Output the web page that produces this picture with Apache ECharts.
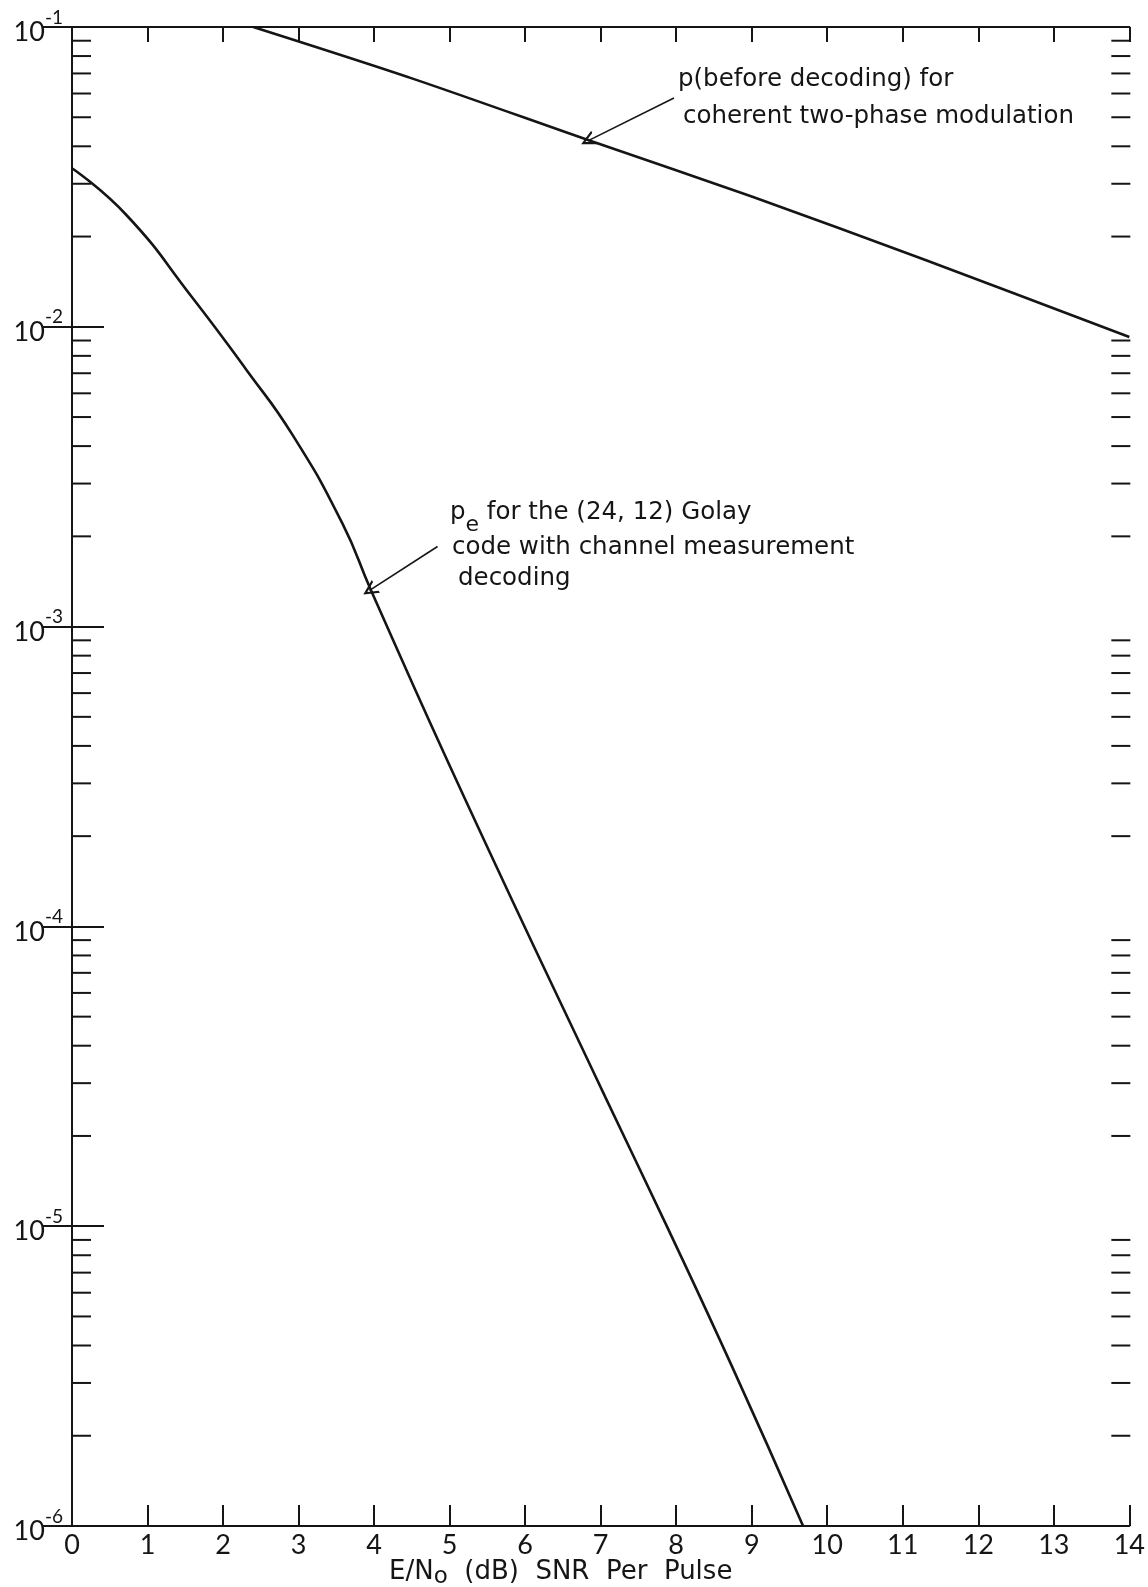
<!DOCTYPE html>
<html>
<head>
<meta charset="utf-8">
<script src="https://cdn.jsdelivr.net/npm/echarts@6/dist/echarts.min.js"></script>
<style>
html,body{margin:0;padding:0;background:#fff;}
#chart{width:1148px;height:1587px;}
</style>
</head>
<body>
<div id="chart"></div>
<script>
// ---- data ----
const xTicks = [0,1,2,3,4,5,6,7,8,9,10,11,12,13,14];
const yDecades = [1e-6, 1e-5, 1e-4, 1e-3, 1e-2, 1e-1];
const minorMantissas = [2,3,4,5,6,7,8,9];

// p (before decoding) for coherent two-phase modulation
const upperX = [2.4, 4.5, 6.9, 9.0, 11.3, 14];
const upperY = [0.1, 0.0674, 0.0414, 0.0272, 0.0167, 0.00925];

// Pe for the (24,12) Golay code with channel measurement decoding
const lowerX = [0, 0.72, 1.6, 2.31, 2.92, 3.58, 3.96, 5.21, 7.06, 7.86, 8.74, 9.68];
const lowerY = [0.0338, 0.0236, 0.01245, 0.00718, 0.00436, 0.00221, 0.00132, 0.000264, 0.000027, 0.0000102, 0.0000034, 0.000001];

// annotation arrows [start, tip] in data coordinates
const arrowUpper = [[7.97, 0.058], [6.83, 0.0417]];
const arrowLower = [[4.84, 0.00185], [3.94, 0.00132]];

// ---- build ----
const minorTicks = [];
yDecades.slice(0, -1).forEach(d => minorMantissas.forEach(m => minorTicks.push([0, Number((m * d).toPrecision(3))])));

const FONT = 'Lato, "DejaVu Sans", sans-serif';
const TFONT = '"DejaVu Sans", Lato, sans-serif';
const INK = '#151515';
const chart = echarts.init(document.getElementById('chart'), null, {renderer: 'canvas'});

const chevron = 'path://M0,10 L5,0 L10,10 L8.4,10 L5,3.2 L1.6,10 Z';

function arrowLine(a) {
  return [{coord: a[0]}, {coord: a[1]}];
}

const option = {
  backgroundColor: '#fff',
  animation: false,
  grid: {left: 72, right: 15, top: 27, bottom: 61, containLabel: false},
  xAxis: [
    {
      type: 'value', min: 0, max: 14, interval: 1, position: 'bottom',
      axisLine: {show: true, lineStyle: {color: INK, width: 2}},
      axisTick: {show: true, inside: true, length: 21, lineStyle: {color: INK, width: 2}},
      axisLabel: {show: true, fontSize: 27, color: INK, fontFamily: FONT, margin: 6,
        formatter: v => xTicks.includes(v) ? String(v) : ''},
      splitLine: {show: false}
    },
    {
      type: 'value', min: 0, max: 14, interval: 1, position: 'top',
      axisLine: {show: true, lineStyle: {color: INK, width: 2}},
      axisTick: {show: true, inside: true, length: 15, lineStyle: {color: INK, width: 2}},
      axisLabel: {show: false},
      splitLine: {show: false}
    }
  ],
  yAxis: [
    {
      type: 'log', logBase: 10, min: 1e-6, max: 1e-1, position: 'left',
      axisLine: {show: true, lineStyle: {color: INK, width: 2}},
      axisTick: {show: true, inside: true, length: 32, lineStyle: {color: INK, width: 2}},
      axisLabel: {
        show: true, margin: 9, color: INK, fontFamily: FONT,
        formatter: v => '{b|10}{s|' + Math.round(Math.log10(v)) + '}',
        rich: {
          b: {fontSize: 27, fontFamily: FONT, color: INK, lineHeight: 38, verticalAlign: 'bottom'},
          s: {fontSize: 19, fontFamily: FONT, color: INK, lineHeight: 19, verticalAlign: 'top'}
        }
      },
      splitLine: {show: false}
    },
    {
      type: 'log', logBase: 10, min: 1e-6, max: 1e-1, position: 'right',
      axisLine: {show: true, lineStyle: {color: INK, width: 2}},
      axisTick: {show: true, inside: true, length: 30, lineStyle: {color: INK, width: 2}},
      axisLabel: {show: false},
      splitLine: {show: false}
    }
  ],
  series: [
    {
      name: 'minor ticks', type: 'custom', xAxisIndex: 0, yAxisIndex: 0, silent: true, clip: false,
      data: minorTicks,
      renderItem: function (params, api) {
        const v = api.value(1);
        const pl = api.coord([0, v]);
        const pr = api.coord([14, v]);
        return {
          type: 'group',
          children: [
            {type: 'line', shape: {x1: pl[0] - 1, y1: pl[1], x2: pl[0] + 19, y2: pl[1]}, style: {stroke: INK, lineWidth: 2}},
            {type: 'line', shape: {x1: pr[0] - 18, y1: pr[1], x2: pr[0] + 1, y2: pr[1]}, style: {stroke: INK, lineWidth: 2}}
          ]
        };
      }
    },
    {
      name: 'p before decoding', type: 'line', xAxisIndex: 0, yAxisIndex: 0,
      data: upperX.map((x, i) => [x, upperY[i]]),
      showSymbol: false, smooth: 0.3,
      itemStyle: {color: INK},
      lineStyle: {color: INK, width: 2.6},
      markLine: {
        silent: true, symbol: ['none', chevron], symbolSize: 15,
        label: {show: false},
        itemStyle: {color: INK},
        lineStyle: {color: INK, width: 1.6, type: 'solid'},
        data: [arrowLine(arrowUpper)]
      }
    },
    {
      name: 'Pe Golay', type: 'line', xAxisIndex: 0, yAxisIndex: 0,
      data: lowerX.map((x, i) => [x, lowerY[i]]),
      showSymbol: false, smooth: 0.5,
      itemStyle: {color: INK},
      lineStyle: {color: INK, width: 2.6},
      markLine: {
        silent: true, symbol: ['none', chevron], symbolSize: 15,
        label: {show: false},
        itemStyle: {color: INK},
        lineStyle: {color: INK, width: 1.6, type: 'solid'},
        data: [arrowLine(arrowLower)]
      }
    }
  ],
  graphic: [
    {type: 'text', x: 678, y: 80, style: {text: 'p(before decoding) for', fill: INK, font: '24.5px ' + TFONT, verticalAlign: 'middle'}},
    {type: 'text', x: 683, y: 117, style: {text: 'coherent two-phase modulation', fill: INK, font: '24.5px ' + TFONT, verticalAlign: 'middle'}},
    {type: 'text', x: 450, y: 500, style: {
      text: '{t|p}{s|e}{t| for the (24, 12) Golay}', verticalAlign: 'top',
      rich: {
        t: {fontSize: 24.5, fontFamily: TFONT, fill: INK, color: INK, lineHeight: 36, verticalAlign: 'top'},
        s: {fontSize: 22, fontFamily: TFONT, fill: INK, color: INK, lineHeight: 22, verticalAlign: 'bottom'}
      }}},
    {type: 'text', x: 452, y: 548, style: {text: 'code with channel measurement', fill: INK, font: '24.5px ' + TFONT, verticalAlign: 'middle'}},
    {type: 'text', x: 458, y: 579, style: {text: 'decoding', fill: INK, font: '24.5px ' + TFONT, verticalAlign: 'middle'}},
    {type: 'text', x: 389, y: 1559, style: {
      text: '{t|E/N}{s|o}{t|  (dB)  SNR  Per  Pulse}', verticalAlign: 'top',
      rich: {
        t: {fontSize: 26, fontFamily: TFONT, fill: INK, color: INK, lineHeight: 30, verticalAlign: 'top'},
        s: {fontSize: 23, fontFamily: TFONT, fill: INK, color: INK, lineHeight: 22, verticalAlign: 'bottom'}
      }}}
  ]
};
chart.setOption(option);
</script>
</body>
</html>
